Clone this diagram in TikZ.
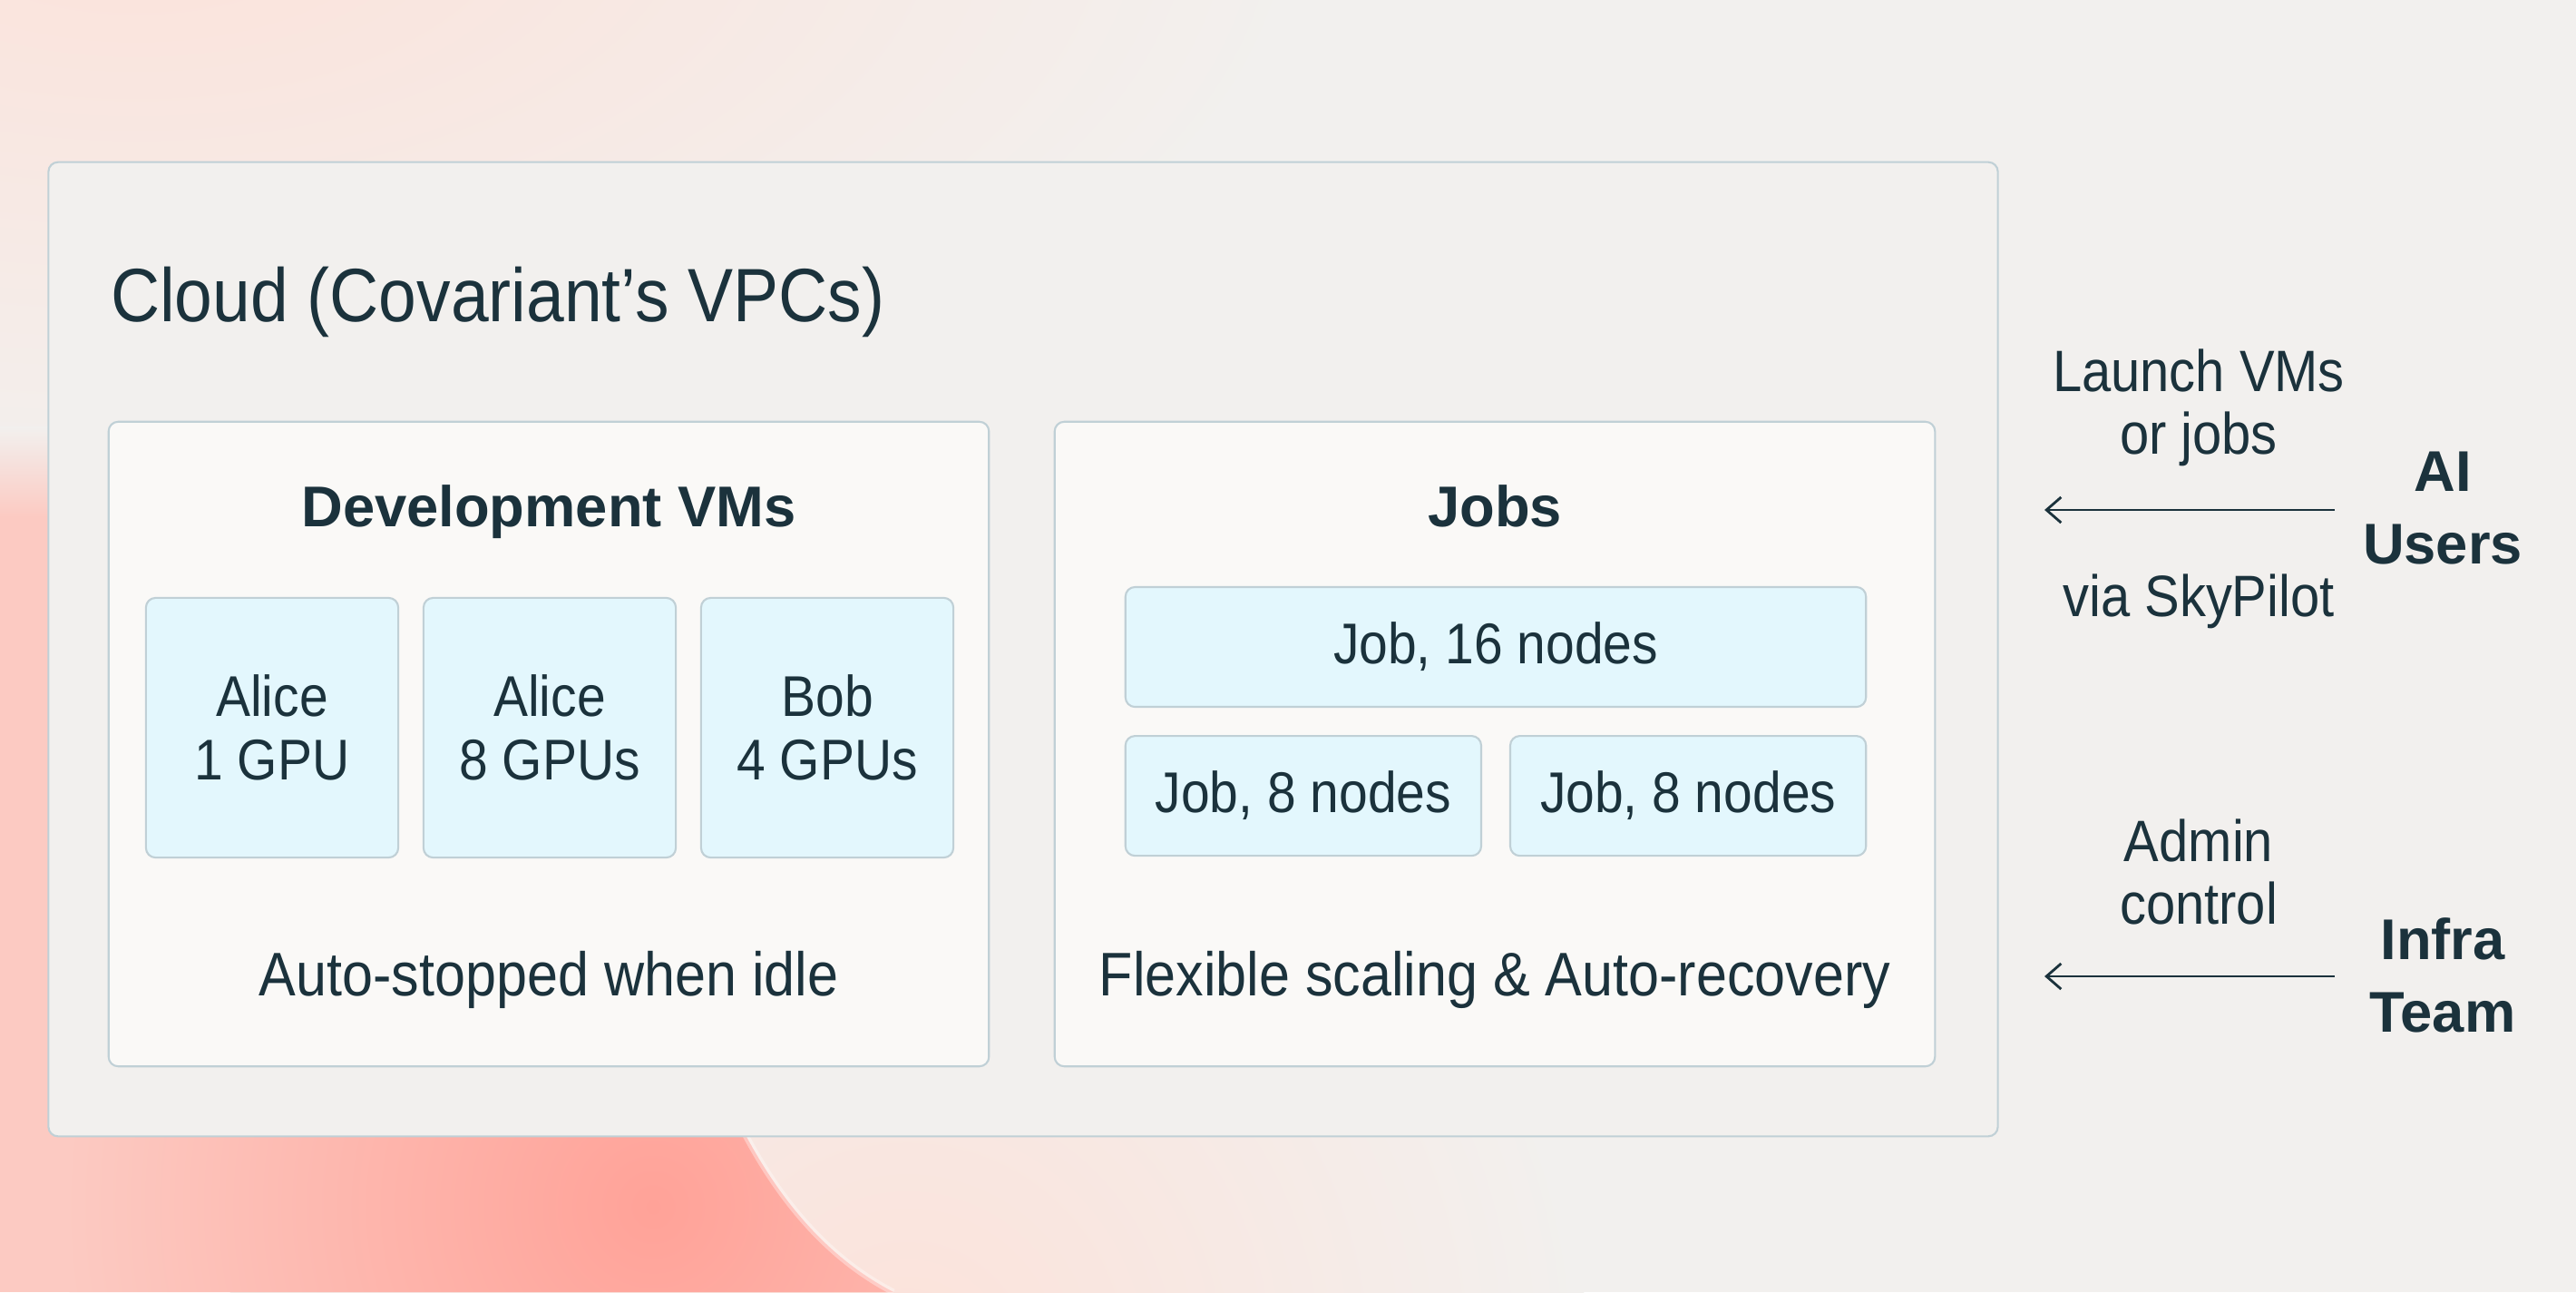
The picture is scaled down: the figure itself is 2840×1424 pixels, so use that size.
\documentclass[tikz,border=0pt]{standalone}
\usepackage{fontspec}
\setmainfont{Liberation Sans}[FakeStretch=0.9]
\newfontfamily\headfont{Liberation Sans}
\usetikzlibrary{positioning,arrows.meta}

\definecolor{ink}{HTML}{1B323C}
\definecolor{paper}{HTML}{F2F0EE}
\definecolor{panelfill}{HTML}{FAF9F7}
\definecolor{vmfill}{HTML}{E3F7FD}
\definecolor{rim}{HTML}{C0D0D6}
\definecolor{salmon}{HTML}{FFA298}
\definecolor{blush}{HTML}{FCCAC2}
\definecolor{peach}{HTML}{FCE2DA}

\tikzset{every picture/.style={line width=0.6pt}}
\tikzset{
  box/.style={draw=rim, rounded corners=3pt, inner sep=0pt, outer sep=0pt},
  cloudbox/.style={box, fill=paper, minimum width=21.48cm, minimum height=10.73cm},
  panel/.style={box, fill=panelfill, minimum width=9.70cm, minimum height=7.10cm},
  vmbox/.style={box, fill=vmfill, text=ink, align=center,
                font=\fontsize{18pt}{19.9pt}\selectfont},
  txt/.style={text=ink, inner sep=0pt, outer sep=0pt},
  title/.style={txt, font=\fontsize{23.7pt}{28pt}\selectfont},
  head/.style={txt, font=\headfont\bfseries\fontsize{18pt}{22.7pt}\selectfont},
  caption/.style={txt, font=\fontsize{19.3pt}{22pt}\selectfont},
  side/.style={txt, align=center, font=\fontsize{18.3pt}{19.6pt}\selectfont},
  actor/.style={head, align=center},
  flow/.style={-{Straight Barb[length=4.6pt,width=8pt]}, draw=ink, line width=0.8pt},
}

\begin{document}
\begin{tikzpicture}[x=0.01cm, y=-0.01cm]
  % canvas | one unit = one pixel of the 2840 x 1424 picture
  \useasboundingbox (0,0) rectangle (2840,1424);
  \fill[paper] (0,0) rectangle (2840,1424);
  \begin{scope}
    \clip (0,0) rectangle (2840,1424);
    \shade[inner color=peach, outer color=paper] (150,-100) ellipse (1300 and 650);
    \shade[inner color=peach, outer color=paper] (1000,1500) circle (750);
    % pink blob | soft top on the left, crisp edge below the cloud box
    \begin{scope}
      \clip (0,470) -- (560,470) -- (760,1100) .. controls (820,1290) and (900,1380) .. (985,1424) -- (0,1424) -- cycle;
      \shade[top color=paper, bottom color=blush] (0,470) rectangle (1100,570);
      \fill[blush] (0,570) rectangle (1100,1424);
      \shade[inner color=salmon, outer color=blush] (720,1330) circle (650);
    \end{scope}
    \draw[white, opacity=.35, line width=2pt] (760,1100) .. controls (820,1290) and (900,1380) .. (985,1424);
  \end{scope}

  % cloud and the two panels
  \node[cloudbox] (cloud) at (1128,715.5) {};
  \node[title, anchor=base west] (cloudtitle) at (122,354) {Cloud (Covariant’s VPCs)};
  \node[panel] (devpanel) at (605,820) {};
  \node[panel] (jobpanel) at (1648,820) {};
  \node[head, anchor=base] (devhead) at (605,580) {Development VMs};
  \node[head, anchor=base] (jobhead) at (1648,580) {Jobs};

  % development VMs | 306 px apart
  \foreach \who/\gpu [count=\i] in {Alice/1 GPU, Alice/8 GPUs, Bob/4 GPUs}
    \node[vmbox, minimum width=2.78cm, minimum height=2.86cm] (vm\i) at (300+306*\i-306,802) {\who\\\gpu};

  % jobs
  \node[vmbox, minimum width=8.16cm, minimum height=1.32cm] (job16) at (1649,713) {Job, 16 nodes};
  \node[vmbox, minimum width=3.92cm, minimum height=1.32cm, below=0.32cm of job16.south west, anchor=north west] (job8a) {Job, 8 nodes};
  \node[vmbox, minimum width=3.92cm, minimum height=1.32cm, right=0.32cm of job8a] (job8b) {Job, 8 nodes};

  \node[caption, anchor=base] (devnote) at (605,1097) {Auto-stopped when idle};
  \node[caption, anchor=base] (jobnote) at (1648,1097) {Flexible scaling \& Auto-recovery};

  % who drives the cloud
  \node[actor] (users) at (2693,560) {AI\\Users};
  \node[actor] (infra) at (2693,1075) {Infra\\Team};
  \node[side] (launch) at (2424,449) {Launch VMs\\or jobs};
  \node[side, anchor=base] (sky) at (2424,679) {via SkyPilot};
  \node[side] (admin) at (2424,961) {Admin\\control};

  \coordinate (usersout) at (2574,562);
  \coordinate (usersin) at (2254,562);
  \coordinate (infraout) at (2574,1076);
  \coordinate (infrain) at (2254,1076);
  \draw[flow] (usersout) -- (usersin);
  \draw[flow] (infraout) -- (infrain);
\end{tikzpicture}
\end{document}
